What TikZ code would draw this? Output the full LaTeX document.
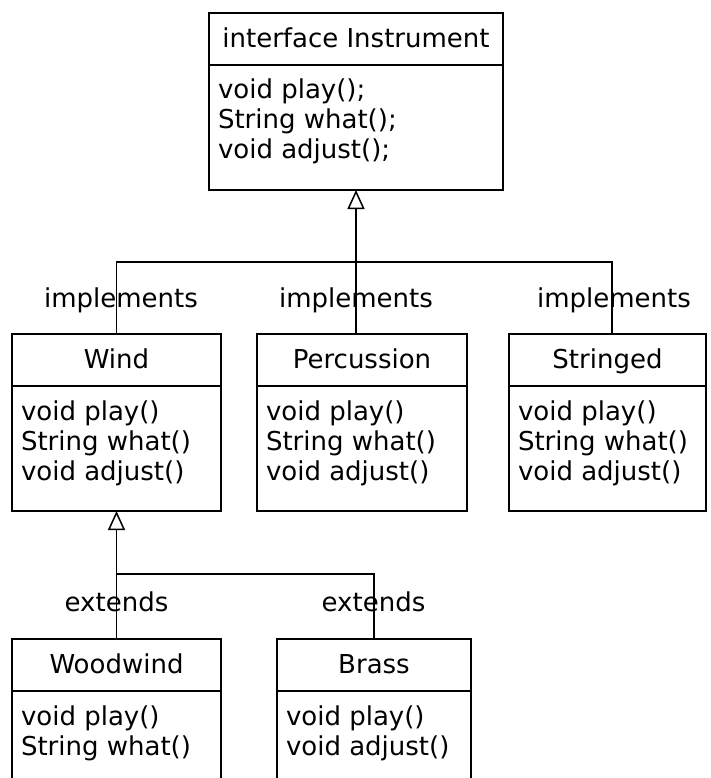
\documentclass[tikz,border=0pt]{standalone}
\usepackage{fontspec}
\setmainfont{DejaVu Sans}
\usetikzlibrary{arrows.meta, positioning}

\newcommand{\methods}[2]{\parbox[t][125pt][t]{#1}{\raggedright\rule{0pt}{34pt}#2}}

\begin{document}
\begin{tikzpicture}[x=1pt, y=1pt, line width=1.5pt,
		every node/.style={font=\fontsize{26}{30}\selectfont},
		classname/.style={draw, anchor=north west, minimum height=52pt, text height=20pt, text depth=3pt, inner sep=0pt, outer sep=0pt},
		classbody/.style={draw, anchor=north west, inner xsep=9pt, inner ysep=0pt, outer sep=0pt},
		realizes/.style={-{Triangle[open, length=19pt, width=17pt]}}]
		\useasboundingbox (0,0) rectangle (710,-778);
		\clip (0,0) rectangle (710,-778);

		% Interface
		\node[classname, minimum width=294pt] (instrument) at (209,-13) {interface Instrument};
		\node[classbody] (instrument-ops) at (instrument.south west) {\methods{276pt}{void play();\\String what();\\void adjust();}};

		% Implementing classes
		\node[classname, minimum width=209pt] (wind) at (12,-334) {Wind};
		\node[classbody] (wind-ops) at (wind.south west) {\methods{191pt}{void play()\\String what()\\void adjust()}};
		\node[classname, minimum width=210pt] (percussion) at (257,-334) {Percussion};
		\node[classbody] (percussion-ops) at (percussion.south west) {\methods{192pt}{void play()\\String what()\\void adjust()}};
		\node[classname, minimum width=197pt] (stringed) at (509,-334) {Stringed};
		\node[classbody] (stringed-ops) at (stringed.south west) {\methods{179pt}{void play()\\String what()\\void adjust()}};

		% Extending classes
		\node[classname, minimum width=209pt] (woodwind) at (12,-639) {Woodwind};
		\node[classbody] (woodwind-ops) at (woodwind.south west) {\methods{191pt}{void play()\\String what()}};
		\node[classname, minimum width=194pt] (brass) at (277,-639) {Brass};
		\node[classbody] (brass-ops) at (brass.south west) {\methods{176pt}{void play()\\void adjust()}};

		% Implements
		\coordinate (impl) at (356,-262);
		\draw[realizes] (impl) -- (instrument-ops.south);
		\draw (wind.north) |- (impl);
		\draw (percussion.north -| impl) -- (impl);
		\draw ([xshift=4.5pt]stringed.north) |- (impl);

		\node[anchor=base] (impl-wind) at (121,-307) {implements};
		\node[anchor=base] (impl-percussion) at (356,-307) {implements};
		\node[anchor=base] (impl-stringed) at (614,-307) {implements};

		% Extends
		\coordinate (ext) at (116.5,-574);
		\draw[realizes] (ext) -- (wind-ops.south);
		\draw (woodwind.north) -- (ext);
		\draw (brass.north) |- (ext);

		\node[anchor=base] (ext-woodwind) at (116.5,-611) {extends};
		\node[anchor=base] (ext-brass) at (373.5,-611) {extends};
	\end{tikzpicture}
\end{document}
